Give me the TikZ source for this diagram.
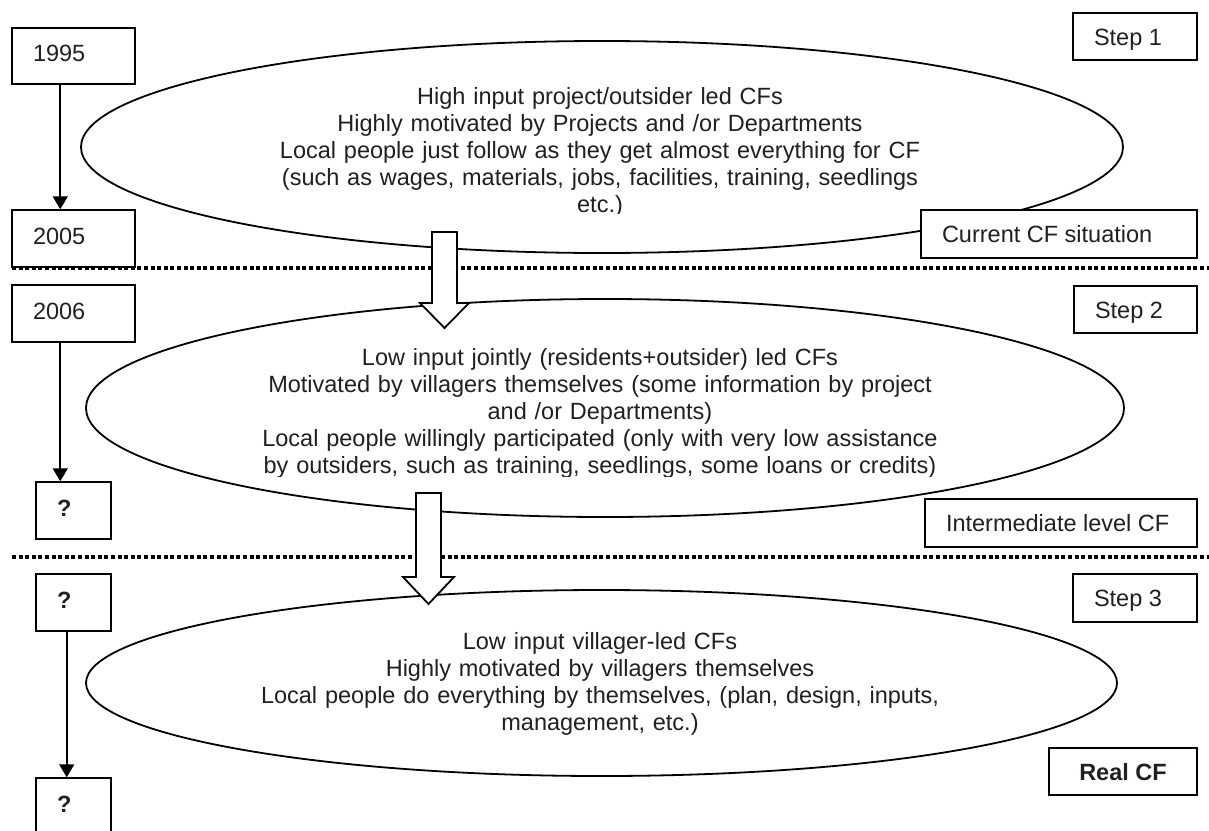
\documentclass[tikz,border=0pt]{standalone}
\usepackage{fontspec}
\setmainfont{Liberation Sans}
\usetikzlibrary{arrows.meta,shapes.geometric,calc}
\definecolor{txt}{RGB}{35,31,32}
\newcommand{\lbx}[2]{\makebox[#1][l]{#2}}
\begin{document}
\begin{tikzpicture}[x=1pt,y=-1pt,
  every node/.style={font=\fontsize{23.5}{27}\selectfont, text=txt},
  lbox/.style={draw, line width=1.5pt, fill=white, inner ysep=0pt, inner xsep=21pt,
               text height=17pt, text depth=6pt},
  rbox/.style={draw, line width=1.5pt, fill=white, inner ysep=0pt, inner xsep=21pt,
               text height=17pt, text depth=0pt},
  oval/.style={draw, ellipse, line width=1.8pt, inner sep=0pt},
  etext/.style={anchor=base, text width=1000pt, align=center, inner sep=0pt},
  yarr/.style={line width=1.8pt, -{Triangle[width=15pt,length=13pt]}},
  sep/.style={line width=3.3pt, dash pattern=on 4pt off 2.6pt},
  blockarrow/.style={draw, fill=white, line width=1.8pt, line join=miter}]
\clip (0,0) rectangle (1209,830);
\fill[white] (0,0) rectangle (1209,830);

% ---- ellipses
\node[oval, minimum width=1042pt, minimum height=212pt] (e1) at (602,147) {};
\node[oval, minimum width=1038pt, minimum height=218pt] (e2) at (605,408) {};
\node[oval, minimum width=1031pt, minimum height=186pt] (e3) at (601.5,683) {};

% ---- ellipse texts (clipped as in the reference)
\begin{scope}
\clip (0,0) rectangle (1209,213.5);
\node[etext] (t1) at (600,104) {High input project/outsider led CFs\\
Highly motivated by Projects and /or Departments\\
Local people just follow as they get almost everything for CF\\
(such as wages, materials, jobs, facilities, training, seedlings\\
etc.)};
\end{scope}
\begin{scope}
\clip (0,300) rectangle (1209,476.5);
\node[etext] (t2) at (600,365) {Low input jointly (residents+outsider) led CFs\\
Motivated by villagers themselves (some information by project\\
and /or Departments)\\
Local people willingly participated (only with very low assistance\\
by outsiders, such as training, seedlings, some loans or credits)};
\end{scope}
\node[etext] (t3) at (600,649) {Low input villager-led CFs\\
Highly motivated by villagers themselves\\
Local people do everything by themselves, (plan, design, inputs,\\
management, etc.)};

% ---- left boxes
\node[lbox, minimum height=56pt] (y1995) at (73.5,56) {\lbx{81pt}{1995}};
\node[lbox, minimum height=57pt] (y2005) at (73.5,238.5) {\lbx{81pt}{2005}};
\node[lbox, minimum height=57pt] (y2006) at (73.5,313.5) {\lbx{81pt}{2006}};
\node[lbox, minimum height=57pt] (q1) at (73.5,510.5) {\lbx{33pt}{\bfseries ?}};
\node[lbox, minimum height=57pt] (q2) at (73.5,602.5) {\lbx{33pt}{\bfseries ?}};
\node[lbox, minimum height=57pt] (q3) at (73.5,806.5) {\lbx{33pt}{\bfseries ?}};

% ---- right boxes
\node[rbox, minimum height=47pt] (s1) at (1135,36.5) {\lbx{82pt}{Step 1}};
\node[rbox, minimum height=48pt] (cur) at (1059,234) {\lbx{234pt}{Current CF situation}};
\node[rbox, minimum height=47pt] (s2) at (1135.5,309.5) {\lbx{81pt}{Step 2}};
\node[rbox, minimum height=48pt] (mid) at (1061,523) {\lbx{230pt}{Intermediate level CF}};
\node[rbox, minimum height=48pt] (s3) at (1135,598) {\lbx{82pt}{Step 3}};
\node[rbox, minimum height=47pt, inner xsep=0pt] (real) at (1123,771.5) {\makebox[148pt][c]{\bfseries Real CF}};

% ---- time arrows
\draw[yarr] ($(y1995.south west)+(49,0)$) -- ($(y2005.north west)+(49,0)$);
\draw[yarr] ($(y2006.south west)+(49,0)$) -- ($(q1.north west)+(25,0)$);
\draw[yarr] ($(q2.south west)+(31.5,0)$) -- ($(q3.north west)+(31.5,0)$);

% ---- separators
\draw[sep] (12,268) -- (1209,268);
\draw[sep] (12,557) -- (1209,557);

% ---- block arrows
\draw[blockarrow] (432,232) -- (457,232) -- (457,303) -- (469,303) -- (444.5,328)
  -- (420,303) -- (432,303) -- cycle;
\draw[blockarrow] (416,493) -- (441,493) -- (441,577) -- (454,577) -- (428.5,604)
  -- (403,577) -- (416,577) -- cycle;
\end{tikzpicture}
\end{document}
